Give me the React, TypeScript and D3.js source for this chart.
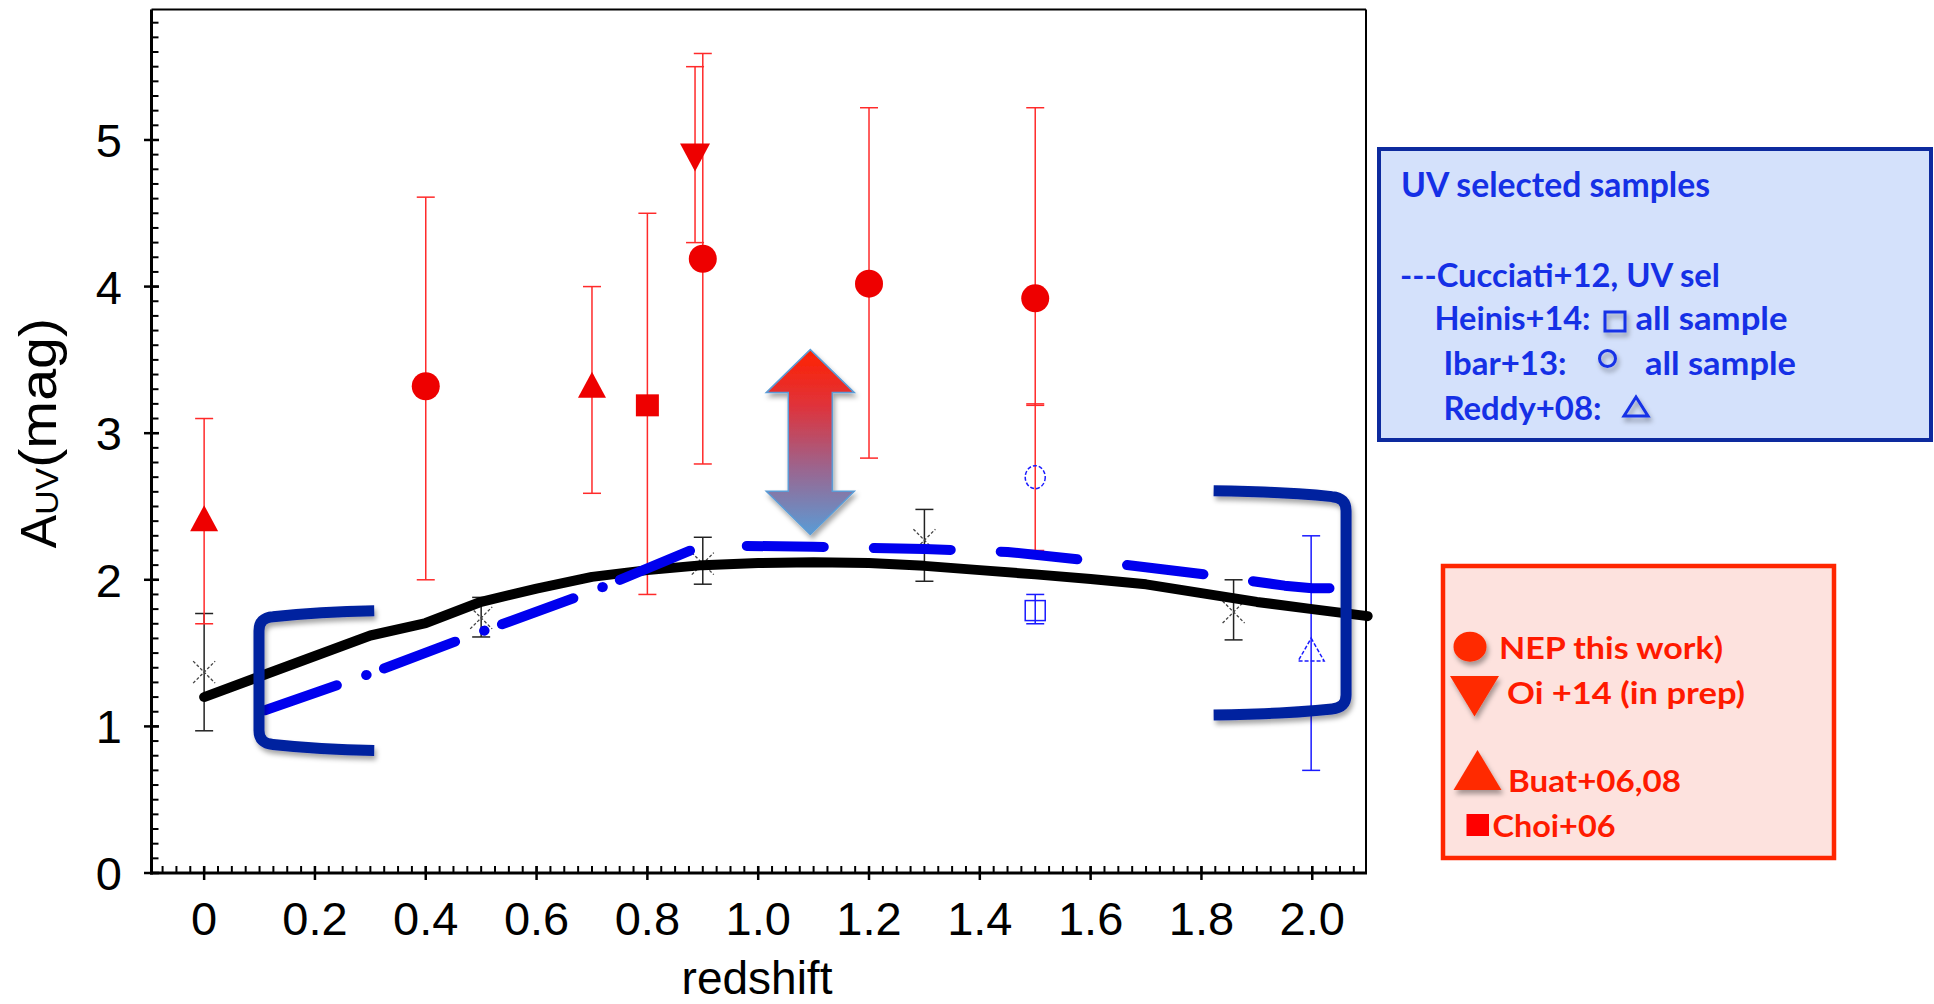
import React from 'react';
import * as d3 from 'd3';

const W = 1934;
const H = 1004;

// ---- axis ticks ----
const xTicks = [0, 0.2, 0.4, 0.6, 0.8, 1.0, 1.2, 1.4, 1.6, 1.8, 2.0];
const xTickLabels = ['0', '0.2', '0.4', '0.6', '0.8', '1.0', '1.2', '1.4', '1.6', '1.8', '2.0'];
const yTicks = [0, 1, 2, 3, 4, 5];
const yTickLabels = ['0', '1', '2', '3', '4', '5'];

// ---- NEP this work (filled circles) ----
const nepZ = [0.4, 0.9, 1.2, 1.5];
const nepA = [3.32, 4.19, 4.02, 3.92];
const nepLo = [2.0, 2.79, 2.83, 3.19];
const nepHi = [4.61, 5.59, 5.22, 5.22];

// ---- Oi+14 (down triangle) ----
const oiZ = [0.886];
const oiA = [4.88];
const oiLo = [4.3];
const oiHi = [5.5];

// ---- Buat+06,08 (up triangles) ----
const buatZ = [0, 0.7];
const buatA = [2.42, 3.33];
const buatLo = [1.7, 2.59];
const buatHi = [3.1, 4.0];

// ---- Choi+06 (square) ----
const choiZ = [0.8];
const choiA = [3.19];
const choiLo = [1.9];
const choiHi = [4.5];

// ---- black crosses ----
const crossZ = [0, 0.5, 0.9, 1.3, 1.858];
const crossA = [1.37, 1.74, 2.11, 2.27, 1.78];
const crossLo = [0.97, 1.61, 1.97, 1.99, 1.59];
const crossHi = [1.77, 1.88, 2.29, 2.48, 2.0];

// ---- Heinis+14 (open square) ----
const heinisZ = [1.5];
const heinisA = [1.79];
const heinisLo = [1.7];
const heinisHi = [1.9];

// ---- Ibar+13 (open circle) ----
const ibarZ = [1.5];
const ibarA = [2.7];
const ibarLo = [2.2];
const ibarHi = [3.2];

// ---- Reddy+08 (open triangle) ----
const reddyZ = [1.998];
const reddyA = [1.5];
const reddyLo = [0.7];
const reddyHi = [2.3];

// ---- black solid curve ----
const modelZ = [0, 0.1, 0.2, 0.3, 0.4, 0.5, 0.6, 0.7, 0.8, 0.9, 1.0, 1.1, 1.2, 1.3, 1.4, 1.5, 1.6, 1.7, 1.8, 1.9, 2.0, 2.1];
const modelA = [1.2, 1.34, 1.48, 1.62, 1.705, 1.85, 1.94, 2.02, 2.066, 2.1, 2.114, 2.119, 2.114, 2.095, 2.066, 2.037, 2.005, 1.969, 1.909, 1.849, 1.8, 1.752];

// ---- Cucciati+12 UV sel (blue dashed) ----
const cucZ = [0.11, 0.3, 0.5, 0.7, 0.9, 1.1, 1.3, 1.45, 1.6, 1.8, 1.95, 2.0, 2.05];
const cucA = [1.11, 1.36, 1.645, 1.92, 2.235, 2.225, 2.21, 2.19, 2.13, 2.04, 1.96, 1.942, 1.942];
const cucSplit = 4; // index of z = 0.9 where dash style changes

// ---- annotation: double arrow and brackets ----
const arrowZ = 1.094;
const arrowTop = 3.57;
const arrowBottom = 2.31;
const leftBracket = { z: 0.099, zEnd: 0.307, lo: 0.836, hi: 1.789 };
const rightBracket = { z: 2.061, zEnd: 1.822, lo: 1.078, hi: 2.608 };

const xScale = d3.scaleLinear().domain([-0.095, 2.097]).range([151.5, 1366]);
const yScale = d3.scaleLinear().domain([0, 5.89]).range([873, 9.5]);

const RED = '#ee0000';
const RED_BAR = '#ff2a2a';
const BLUE = '#1a1aff';
const NAVY = '#00209f';

function ErrBar({ z, lo, hi, color, cap = 9, width = 1.5 }: any) {
  const x = xScale(z);
  const y1 = yScale(lo);
  const y2 = yScale(hi);
  return (
    <g stroke={color} strokeWidth={width}>
      <line x1={x} x2={x} y1={y1} y2={y2} />
      <line x1={x - cap} x2={x + cap} y1={y1} y2={y1} />
      <line x1={x - cap} x2={x + cap} y1={y2} y2={y2} />
    </g>
  );
}

function bracketPath(b: any, dir: number) {
  const xc = xScale(b.z);
  const xe = xScale(b.zEnd);
  const yt = yScale(b.hi);
  const yb = yScale(b.lo);
  const r = 14;
  const f = 6;
  return `M${xe},${yt} Q${xc + dir * 60},${yt + 1} ${xc + dir * r},${yt + f} Q${xc},${yt + f + 1} ${xc},${yt + f + r}` +
    ` L${xc},${yb - f - r} Q${xc},${yb - f - 1} ${xc + dir * r},${yb - f} Q${xc + dir * 60},${yb - 1} ${xe},${yb}`;
}

export default function App() {
  const pathOf = (zs: number[], as: number[]) =>
    d3.line<[number, number]>().x((d) => xScale(d[0])).y((d) => yScale(d[1]))(zs.map((z, i) => [z, as[i]]) as any) || '';

  const modelPath = pathOf(modelZ, modelA);
  const cucPath1 = pathOf(cucZ.slice(0, cucSplit + 1), cucA.slice(0, cucSplit + 1));
  const cucPath2 = pathOf(cucZ.slice(cucSplit), cucA.slice(cucSplit));

  const xMinor = d3.range(-3, 84).map((i) => i * 0.025).filter((v) => v > -0.095 && v < 2.097);
  const yMinor = d3.range(1, 59).map((i) => i / 10);

  // arrow geometry
  const ax = xScale(arrowZ);
  const at = yScale(arrowTop);
  const ab = yScale(arrowBottom);
  const hw = 44, sw = 22, hl = 43;
  const arrowPts = [
    [ax, at], [ax + hw, at + hl], [ax + sw, at + hl], [ax + sw, ab - hl], [ax + hw, ab - hl],
    [ax, ab], [ax - hw, ab - hl], [ax - sw, ab - hl], [ax - sw, at + hl], [ax - hw, at + hl],
  ].map((p) => p.join(',')).join(' ');

  const tickFont = "'Liberation Sans', Arial, sans-serif";
  const legFont = "Lato, 'Open Sans', sans-serif";

  return (
    <svg width={W} height={H} style={{ position: 'absolute', left: 0, top: 0, display: 'block', background: '#fff' }}
      fontFamily={tickFont}>
      <defs>
        <filter id="shadow" x="-20%" y="-20%" width="140%" height="140%">
          <feDropShadow dx="2" dy="4" stdDeviation="2.5" floodColor="#000" floodOpacity="0.35" />
        </filter>
        <linearGradient id="arrowGrad" x1="0" y1="0" x2="0" y2="1">
          <stop offset="0" stopColor="#ff2200" />
          <stop offset="0.3" stopColor="#e0323a" />
          <stop offset="0.65" stopColor="#9a6690" />
          <stop offset="1" stopColor="#5b9bd5" />
        </linearGradient>
      </defs>
      <rect x={0} y={0} width={W} height={H} fill="#fff" />

      {/* frame */}
      <line x1={151.5} x2={1366} y1={9.5} y2={9.5} stroke="#000" strokeWidth={2} />
      <line x1={1366} x2={1366} y1={9.5} y2={873} stroke="#000" strokeWidth={2} />
      <line x1={151.5} x2={151.5} y1={9.5} y2={874.5} stroke="#000" strokeWidth={3} />
      <line x1={150} x2={1367} y1={873} y2={873} stroke="#000" strokeWidth={3} />

      {/* x ticks */}
      {xMinor.map((v, i) => (
        <line key={'xm' + i} x1={xScale(v)} x2={xScale(v)} y1={873} y2={866} stroke="#000" strokeWidth={2} />
      ))}
      {xTicks.map((v, i) => (
        <g key={'xt' + i}>
          <line x1={xScale(v)} x2={xScale(v)} y1={866} y2={880} stroke="#000" strokeWidth={2.5} />
          <text x={xScale(v)} y={935} textAnchor="middle" fontSize={47} fill="#000">{xTickLabels[i]}</text>
        </g>
      ))}
      {/* y ticks */}
      {yMinor.map((v, i) => (
        <line key={'ym' + i} x1={151.5} x2={158.5} y1={yScale(v)} y2={yScale(v)} stroke="#000" strokeWidth={2} />
      ))}
      {yTicks.map((v, i) => (
        <g key={'yt' + i}>
          <line x1={144} x2={159} y1={yScale(v)} y2={yScale(v)} stroke="#000" strokeWidth={2.5} />
          <text x={122} y={yScale(v) + 17} textAnchor="end" fontSize={47} fill="#000">{yTickLabels[i]}</text>
        </g>
      ))}

      {/* axis titles */}
      <text x={757} y={994} textAnchor="middle" fontSize={46} fill="#000">redshift</text>
      <text transform="translate(56,433) rotate(-90)" textAnchor="middle" fill="#000">
        <tspan fontSize={50}>A</tspan>
        <tspan fontSize={32} dy={2} textLength={47} lengthAdjust="spacingAndGlyphs">UV</tspan>
        <tspan fontSize={52} dy={-2} textLength={150} lengthAdjust="spacingAndGlyphs">(mag)</tspan>
      </text>

      {/* error bars */}
      {crossZ.map((z, i) => <ErrBar key={'ce' + i} z={z} lo={crossLo[i]} hi={crossHi[i]} color="#222" />)}
      {nepZ.map((z, i) => <ErrBar key={'ne' + i} z={z} lo={nepLo[i]} hi={nepHi[i]} color={RED_BAR} />)}
      {oiZ.map((z, i) => <ErrBar key={'oe' + i} z={z} lo={oiLo[i]} hi={oiHi[i]} color={RED_BAR} />)}
      {buatZ.map((z, i) => <ErrBar key={'be' + i} z={z} lo={buatLo[i]} hi={buatHi[i]} color={RED_BAR} />)}
      {choiZ.map((z, i) => <ErrBar key={'che' + i} z={z} lo={choiLo[i]} hi={choiHi[i]} color={RED_BAR} />)}
      {ibarZ.map((z, i) => <ErrBar key={'ie' + i} z={z} lo={ibarLo[i]} hi={ibarHi[i]} color={RED_BAR} />)}
      {heinisZ.map((z, i) => <ErrBar key={'he' + i} z={z} lo={heinisLo[i]} hi={heinisHi[i]} color={BLUE} />)}
      {reddyZ.map((z, i) => <ErrBar key={'re' + i} z={z} lo={reddyLo[i]} hi={reddyHi[i]} color={BLUE} />)}

      {/* black crosses */}
      {crossZ.map((z, i) => {
        const x = xScale(z), y = yScale(crossA[i]);
        return (
          <g key={'cx' + i} stroke="#444" strokeWidth={1.3} strokeDasharray="3 2">
            <line x1={x - 11} y1={y - 11} x2={x + 11} y2={y + 11} />
            <line x1={x - 11} y1={y + 11} x2={x + 11} y2={y - 11} />
          </g>
        );
      })}

      {/* model curves */}
      <path d={modelPath} fill="none" stroke="#000" strokeWidth={10} strokeLinejoin="round" strokeLinecap="round" />
      <path d={cucPath1} fill="none" stroke="#0000ee" strokeWidth={10} strokeLinecap="round" strokeLinejoin="round"
        strokeDasharray="76 31 0.5 18.5" />
      <path d={cucPath2} fill="none" stroke="#0000ee" strokeWidth={10} strokeLinecap="round" strokeLinejoin="round"
        strokeDasharray="77 50" strokeDashoffset={83} />

      {/* red markers */}
      {nepZ.map((z, i) => <circle key={'n' + i} cx={xScale(z)} cy={yScale(nepA[i])} r={14} fill={RED} />)}
      {oiZ.map((z, i) => {
        const x = xScale(z), y = yScale(oiA[i]);
        return <polygon key={'o' + i} points={`${x - 15},${y - 14} ${x + 15},${y - 14} ${x},${y + 14}`} fill={RED} />;
      })}
      {buatZ.map((z, i) => {
        const x = xScale(z), y = yScale(buatA[i]);
        return <polygon key={'b' + i} points={`${x},${y - 13} ${x + 14},${y + 13} ${x - 14},${y + 13}`} fill={RED} />;
      })}
      {choiZ.map((z, i) => (
        <rect key={'c' + i} x={xScale(z) - 11.5} y={yScale(choiA[i]) - 11} width={23} height={22} fill={RED} />
      ))}

      {/* blue open markers */}
      {heinisZ.map((z, i) => (
        <rect key={'h' + i} x={xScale(z) - 10} y={yScale(heinisA[i]) - 10} width={20} height={20} fill="none" stroke={BLUE} strokeWidth={1.5} />
      ))}
      {ibarZ.map((z, i) => (
        <ellipse key={'ib' + i} cx={xScale(z)} cy={yScale(ibarA[i])} rx={10} ry={11.5} fill="none" stroke={BLUE} strokeWidth={1.5} strokeDasharray="4 2" />
      ))}
      {reddyZ.map((z, i) => {
        const x = xScale(z), y = yScale(reddyA[i]);
        return <polygon key={'rd' + i} points={`${x},${y - 15} ${x + 13},${y + 8} ${x - 13},${y + 8}`} fill="none" stroke={BLUE} strokeWidth={1.5} strokeDasharray="4 2" />;
      })}

      {/* brackets */}
      <g filter="url(#shadow)">
        <path d={bracketPath(leftBracket, 1)} fill="none" stroke={NAVY} strokeWidth={11} />
        <path d={bracketPath(rightBracket, -1)} fill="none" stroke={NAVY} strokeWidth={11} />
      </g>

      {/* double arrow */}
      <polygon points={arrowPts} fill="url(#arrowGrad)" stroke="#5b9bd5" strokeWidth={1.5} filter="url(#shadow)" />

      {/* blue legend box */}
      <rect x={1379} y={149} width={552} height={291} fill="#d4e1fb" stroke="#0d2a9e" strokeWidth={4} />
      <g fontFamily={legFont} fontWeight="bold" fill="#1530e6">
        <text x={1401} y={197} fontSize={34} textLength={309} lengthAdjust="spacingAndGlyphs">UV selected samples</text>
        <text x={1400} y={287} fontSize={32} textLength={320} lengthAdjust="spacingAndGlyphs">---Cucciati+12, UV sel</text>
        <text x={1434.5} y={330} fontSize={32} textLength={156} lengthAdjust="spacingAndGlyphs">Heinis+14:</text>
        <text x={1635.5} y={330} fontSize={32} textLength={152} lengthAdjust="spacingAndGlyphs">all sample</text>
        <text x={1443.5} y={375} fontSize={32} textLength={123} lengthAdjust="spacingAndGlyphs">Ibar+13:</text>
        <text x={1645} y={375} fontSize={32} textLength={151} lengthAdjust="spacingAndGlyphs">all sample</text>
        <text x={1443.5} y={420} fontSize={32} textLength={158} lengthAdjust="spacingAndGlyphs">Reddy+08:</text>
      </g>
      <g fill="none" stroke="#1530e6" strokeWidth={3} filter="url(#shadow)">
        <rect x={1605} y={312} width={20} height={19} />
        <circle cx={1607.5} cy={358.5} r={8} />
        <polygon points="1636,397 1648,416 1624,416" />
      </g>

      {/* red legend box */}
      <rect x={1443} y={566} width={391} height={292} fill="#fde2de" stroke="#ff2600" strokeWidth={4.5} />
      <g filter="url(#shadow)">
        <ellipse cx={1470} cy={646.7} rx={16.5} ry={15} fill="#ff2a00" />
        <polygon points="1450,676 1499,676 1474.5,716.5" fill="#ff2a00" />
        <polygon points="1477.5,750 1501.5,790 1453.5,790" fill="#ff2a00" />
      </g>
      <rect x={1466.5} y={814} width={22.5} height={22} fill="#ff0000" />
      <g fontFamily={legFont} fontWeight="bold" fill="#ff1a00">
        <text x={1499} y={659} fontSize={30} textLength={224} lengthAdjust="spacingAndGlyphs">NEP this work)</text>
        <text x={1507} y={704} fontSize={30} textLength={238} lengthAdjust="spacingAndGlyphs">Oi +14 (in prep)</text>
        <text x={1508} y={792} fontSize={30} textLength={173} lengthAdjust="spacingAndGlyphs">Buat+06,08</text>
        <text x={1492.5} y={837} fontSize={30} textLength={123} lengthAdjust="spacingAndGlyphs">Choi+06</text>
      </g>
    </svg>
  );
}
